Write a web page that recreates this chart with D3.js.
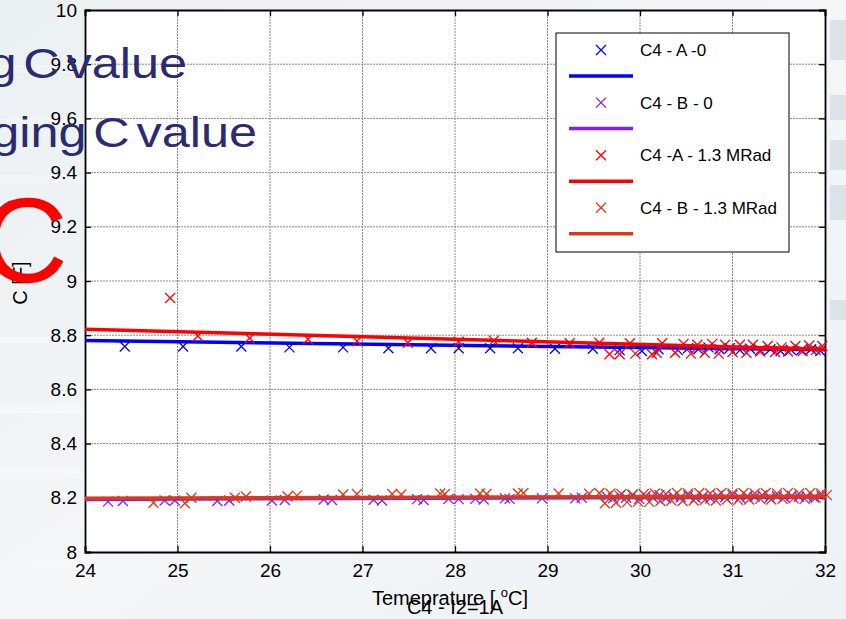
<!DOCTYPE html>
<html>
<head>
<meta charset="utf-8">
<script src="https://cdn.jsdelivr.net/npm/d3@7"></script>
<style>
  html, body { margin: 0; padding: 0; background: #eef2f5; }
  svg { display: block; font-family: "Liberation Sans", Arial, sans-serif; }
</style>
</head>
<body>
<svg id="chart" width="846" height="619"></svg>
<script>
// ---- data ----
var xTicks = [24, 25, 26, 27, 28, 29, 30, 31, 32];
var yTicks = [8, 8.2, 8.4, 8.6, 8.8, 9, 9.2, 9.4, 9.6, 9.8, 10];

var seriesNames = ["C4 - A -0", "C4 - B - 0", "C4 -A - 1.3 MRad", "C4 - B - 1.3 MRad"];
var seriesColors = ["#0000ff", "#7f1fff", "#ff0000", "#dc3a12"];

// C4 - A - 0
var a0Temp = [24.43, 25.06, 25.69, 26.21, 26.79, 27.28, 27.74, 28.04, 28.38, 28.68, 29.08, 29.49, 29.78, 30.02, 30.20, 30.41, 30.52, 30.63, 30.74, 30.86, 30.97, 31.08, 31.19, 31.30, 31.41, 31.52, 31.63, 31.74, 31.85, 31.95];
var a0C = [8.758, 8.758, 8.758, 8.755, 8.755, 8.752, 8.752, 8.752, 8.752, 8.752, 8.750, 8.750, 8.745, 8.742, 8.748, 8.745, 8.752, 8.748, 8.755, 8.748, 8.752, 8.745, 8.750, 8.745, 8.748, 8.742, 8.746, 8.744, 8.748, 8.742];

// C4 - B - 0
var b0Temp = [24.25, 24.41, 24.86, 24.97, 25.43, 25.56, 26.02, 26.16, 26.58, 26.67, 27.12, 27.21, 27.59, 27.66, 27.93, 28.04, 28.22, 28.31, 28.54, 28.59, 28.94, 29.30, 29.37, 29.64, 29.71, 29.78, 29.85, 29.92, 29.99, 30.06, 30.14, 30.21, 30.28, 30.36, 30.44, 30.52, 30.60, 30.68, 30.76, 30.84, 30.92, 31.00, 31.08, 31.16, 31.24, 31.32, 31.40, 31.48, 31.56, 31.64, 31.72, 31.80, 31.88, 31.96];
var b0C = [8.186, 8.188, 8.190, 8.190, 8.188, 8.190, 8.190, 8.192, 8.194, 8.192, 8.193, 8.190, 8.195, 8.192, 8.196, 8.195, 8.196, 8.194, 8.198, 8.196, 8.198, 8.198, 8.200, 8.205, 8.198, 8.208, 8.200, 8.210, 8.196, 8.206, 8.200, 8.210, 8.198, 8.206, 8.202, 8.208, 8.200, 8.206, 8.198, 8.208, 8.202, 8.210, 8.200, 8.206, 8.204, 8.210, 8.200, 8.206, 8.202, 8.208, 8.204, 8.206, 8.202, 8.208];

// C4 - A - 1.3 MRad
var a13Temp = [24.92, 25.22, 25.78, 26.41, 26.94, 27.49, 28.04, 28.42, 28.83, 29.24, 29.56, 29.67, 29.78, 29.89, 29.95, 30.13, 30.18, 30.24, 30.38, 30.47, 30.55, 30.62, 30.70, 30.78, 30.85, 30.92, 31.00, 31.08, 31.15, 31.22, 31.30, 31.38, 31.46, 31.53, 31.60, 31.68, 31.76, 31.83, 31.90, 31.97];
var a13C = [8.937, 8.797, 8.789, 8.785, 8.778, 8.772, 8.776, 8.780, 8.772, 8.770, 8.772, 8.730, 8.730, 8.770, 8.732, 8.730, 8.735, 8.770, 8.735, 8.768, 8.732, 8.765, 8.735, 8.768, 8.732, 8.765, 8.738, 8.765, 8.735, 8.765, 8.740, 8.760, 8.738, 8.755, 8.740, 8.760, 8.742, 8.762, 8.745, 8.760];

// C4 - B - 1.3 MRad
var b13Temp = [24.74, 25.08, 25.15, 25.62, 25.74, 26.19, 26.29, 26.79, 26.94, 27.32, 27.42, 27.84, 27.89, 28.27, 28.34, 28.68, 28.74, 29.12, 29.45, 29.56, 29.62, 29.68, 29.74, 29.80, 29.86, 29.92, 29.98, 30.04, 30.10, 30.16, 30.22, 30.28, 30.34, 30.40, 30.46, 30.52, 30.58, 30.64, 30.70, 30.76, 30.82, 30.88, 30.94, 31.00, 31.06, 31.12, 31.18, 31.24, 31.30, 31.36, 31.42, 31.48, 31.54, 31.60, 31.66, 31.72, 31.78, 31.84, 31.90, 31.96, 32.02];
var b13C = [8.182, 8.180, 8.200, 8.200, 8.205, 8.205, 8.208, 8.212, 8.214, 8.214, 8.212, 8.216, 8.214, 8.216, 8.214, 8.216, 8.218, 8.216, 8.215, 8.218, 8.180, 8.216, 8.182, 8.214, 8.184, 8.212, 8.186, 8.214, 8.185, 8.216, 8.188, 8.214, 8.190, 8.218, 8.188, 8.216, 8.190, 8.218, 8.192, 8.216, 8.190, 8.218, 8.194, 8.216, 8.192, 8.218, 8.194, 8.216, 8.196, 8.218, 8.194, 8.216, 8.196, 8.218, 8.198, 8.216, 8.196, 8.218, 8.200, 8.216, 8.210];

// fitted lines (start / end)
var fitTemp = [24, 32];
var a0Fit = [8.780, 8.746];
var b0Fit = [8.194, 8.203];
var a13Fit = [8.822, 8.748];
var b13Fit = [8.198, 8.206];

function pairs(xs, ys) {
  var out = [];
  for (var i = 0; i < Math.min(xs.length, ys.length); i++) out.push([xs[i], ys[i]]);
  return out;
}

var series = [
  { pts: pairs(a0Temp, a0C), fit: pairs(fitTemp, a0Fit) },
  { pts: pairs(b0Temp, b0C), fit: pairs(fitTemp, b0Fit) },
  { pts: pairs(a13Temp, a13C), fit: pairs(fitTemp, a13Fit) },
  { pts: pairs(b13Temp, b13C), fit: pairs(fitTemp, b13Fit) }
];

var svg = d3.select("#chart");

// ---- slide background ----
var defs = svg.append("defs");
var bg = defs.append("linearGradient").attr("id", "bg")
  .attr("x1", "0").attr("y1", "0").attr("x2", "1").attr("y2", "1");
bg.append("stop").attr("offset", "0").attr("stop-color", "#ebf0f3");
bg.append("stop").attr("offset", "0.5").attr("stop-color", "#f4f6f8");
bg.append("stop").attr("offset", "1").attr("stop-color", "#eef2f5");
svg.append("rect").attr("width", 846).attr("height", 619).attr("fill", "url(#bg)");

// faint streaks on the left part of the slide
var streaks = [65, 118, 175, 335, 405, 470, 560];
svg.selectAll(".streak").data(streaks).enter().append("rect")
  .attr("x", 0).attr("y", function(d) { return d; })
  .attr("width", 85).attr("height", 8)
  .attr("fill", "#ffffff").attr("opacity", 0.25);

// grey blocks at the right edge
var edgeBlocks = [[20, 40], [95, 25], [140, 30], [185, 35], [300, 20]];
svg.selectAll(".edge").data(edgeBlocks).enter().append("rect")
  .attr("x", 830).attr("y", function(d) { return d[0]; })
  .attr("width", 16).attr("height", function(d) { return d[1]; })
  .attr("fill", "#d3dbe1").attr("opacity", 0.7);

// ---- axes ----
var margin = { left: 85, right: 21, top: 10, bottom: 67 };
var width = 846 - margin.left - margin.right,
    height = 619 - margin.top - margin.bottom;

var x = d3.scaleLinear().domain([24, 32]).range([0, width]);
var y = d3.scaleLinear().domain([8, 10]).range([height, 0]);

var g = svg.append("g").attr("transform", "translate(" + margin.left + "," + margin.top + ")");

g.append("rect").attr("width", width).attr("height", height).attr("fill", "#ffffff");

// grid
g.append("g").selectAll("line").data(xTicks.slice(1, -1)).enter().append("line")
  .attr("x1", function(d) { return x(d); }).attr("x2", function(d) { return x(d); })
  .attr("y1", 0).attr("y2", height)
  .attr("stroke", "#8a8a8a").attr("stroke-dasharray", "2,1");
g.append("g").selectAll("line").data(yTicks.slice(1, -1)).enter().append("line")
  .attr("y1", function(d) { return y(d); }).attr("y2", function(d) { return y(d); })
  .attr("x1", 0).attr("x2", width)
  .attr("stroke", "#8a8a8a").attr("stroke-dasharray", "2,1");

// axes with inward ticks
var xAxis = g.append("g").attr("transform", "translate(0," + height + ")")
  .call(d3.axisBottom(x).tickValues(xTicks).tickSize(-6).tickPadding(12).tickFormat(d3.format("d")));
var yAxis = g.append("g")
  .call(d3.axisLeft(y).tickValues(yTicks).tickSize(-6).tickPadding(8).tickFormat(function(d) { return d3.format("")(d); }));
var xTop = g.append("g")
  .call(d3.axisTop(x).tickValues(xTicks).tickSize(-6).tickFormat(""));
var yRight = g.append("g").attr("transform", "translate(" + width + ",0)")
  .call(d3.axisRight(y).tickValues(yTicks).tickSize(-6).tickFormat(""));

[xAxis, yAxis, xTop, yRight].forEach(function(a) {
  a.select(".domain").attr("stroke", "#000").attr("stroke-width", 1.8);
  a.selectAll(".tick line").attr("stroke", "#000").attr("stroke-width", 1.3);
  a.selectAll(".tick text").attr("font-size", 19).attr("fill", "#000")
    .attr("font-family", "Liberation Sans, Arial, sans-serif");
});

// ---- data marks ----
var xMarker = "M-5,-5L5,5M-5,5L5,-5";
var line = d3.line().x(function(d) { return x(d[0]); }).y(function(d) { return y(d[1]); });

series.forEach(function(s, i) {
  g.append("g").selectAll("path").data(s.pts).enter().append("path")
    .attr("d", xMarker)
    .attr("transform", function(d) { return "translate(" + x(d[0]) + "," + y(d[1]) + ")"; })
    .attr("fill", "none").attr("stroke", seriesColors[i]).attr("stroke-width", 1.3);
  g.append("path").datum(s.fit).attr("d", line)
    .attr("fill", "none").attr("stroke", seriesColors[i]).attr("stroke-width", 3.5);
});

// ---- legend ----
var legend = svg.append("g");
legend.append("rect").attr("x", 556).attr("y", 33).attr("width", 233).attr("height", 219)
  .attr("fill", "#ffffff").attr("stroke", "#000").attr("stroke-width", 1);
seriesNames.forEach(function(name, i) {
  var my = 50 + i * 52.6;
  legend.append("path").attr("d", xMarker)
    .attr("transform", "translate(601," + my + ")")
    .attr("fill", "none").attr("stroke", seriesColors[i]).attr("stroke-width", 1.3);
  legend.append("text").attr("x", 640).attr("y", my + 6).attr("font-size", 17)
    .attr("fill", "#000").text(name);
  legend.append("line").attr("x1", 569).attr("x2", 633)
    .attr("y1", my + 26).attr("y2", my + 26)
    .attr("stroke", seriesColors[i]).attr("stroke-width", 3.5);
});

// ---- labels ----
var xl = svg.append("text").attr("x", 450).attr("y", 605).attr("text-anchor", "middle")
  .attr("font-size", 20).attr("fill", "#000");
xl.append("tspan").text("Temeprature [ ");
xl.append("tspan").attr("font-size", 13).attr("dy", -8).text("o");
xl.append("tspan").attr("dy", 8).text("C]");

svg.append("text").attr("x", 455).attr("y", 614).attr("text-anchor", "middle")
  .attr("font-size", 20).attr("fill", "#000").text("C4 - I2=1A");

svg.append("text").attr("transform", "translate(27,283) rotate(-90)")
  .attr("text-anchor", "middle").attr("font-size", 20).attr("fill", "#000").text("C [F]");

// ---- slide text lying over the figure ----
var titleColor = "#2b2b72";
svg.append("g").attr("transform", "translate(187,78) scale(1.2,1)")
  .append("text").attr("text-anchor", "end").attr("font-size", 42)
  .attr("word-spacing", -6).attr("fill", titleColor).text("Unchanging C value");
svg.append("g").attr("transform", "translate(257,147) scale(1.2,1)")
  .append("text").attr("text-anchor", "end").attr("font-size", 42)
  .attr("word-spacing", -6).attr("fill", titleColor).text("Changing C value");

// big red C from the slide
svg.append("text").attr("x", 68).attr("y", 282).attr("text-anchor", "end")
  .attr("font-size", 120).attr("fill", "#ff0000").text("C");
</script>
</body>
</html>
